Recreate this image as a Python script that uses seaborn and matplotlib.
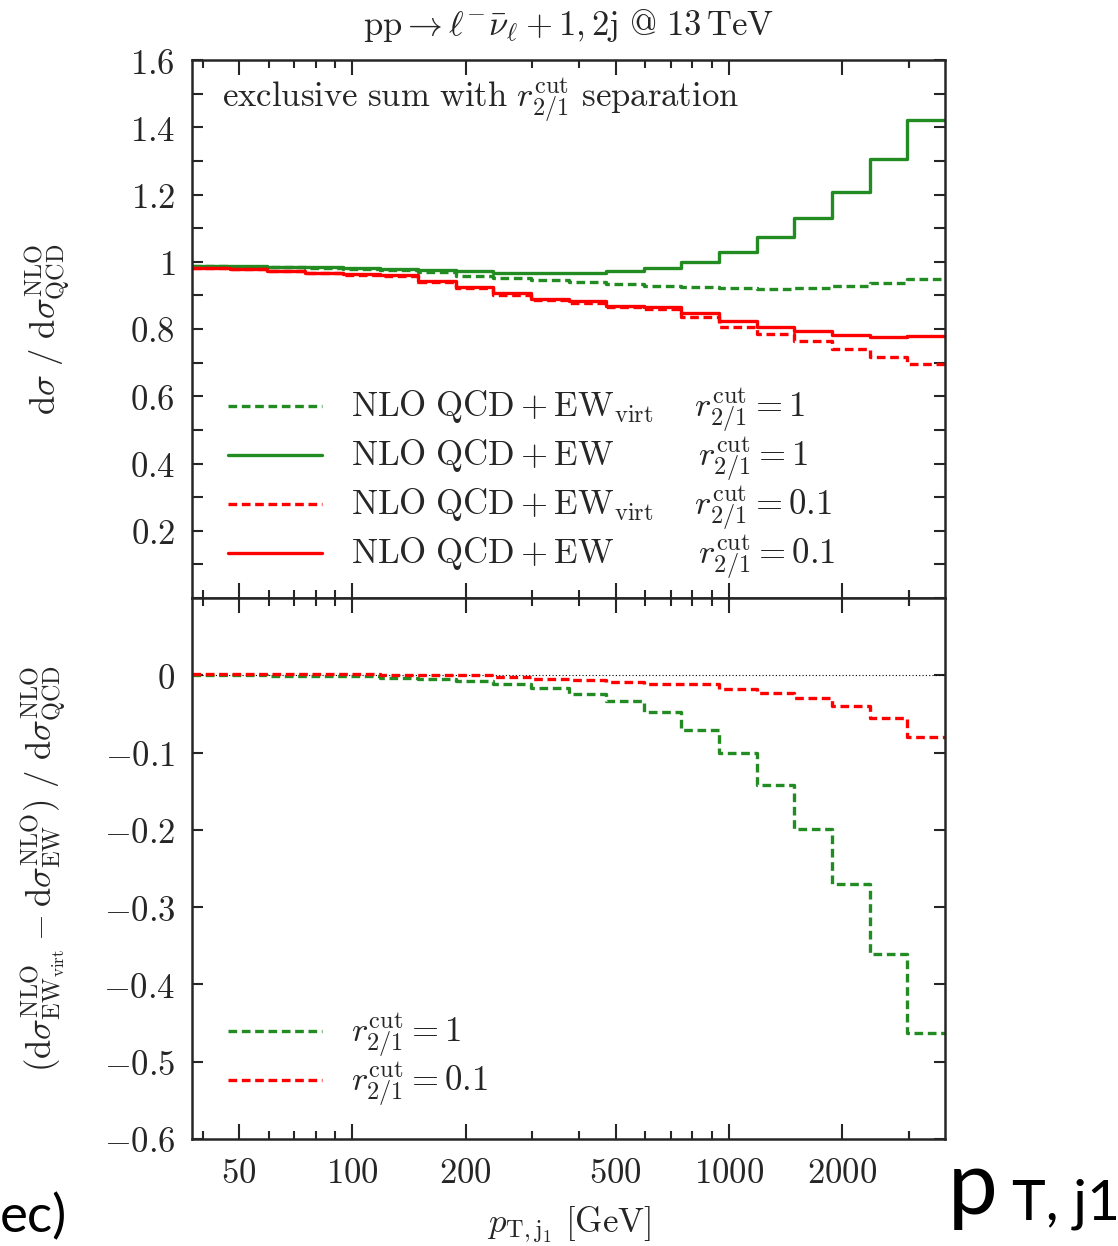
import numpy as np
import pandas as pd
import matplotlib
matplotlib.use("Agg")
import matplotlib.pyplot as plt
import seaborn as sns
from matplotlib.ticker import FixedLocator, FixedFormatter, MultipleLocator, NullFormatter
from matplotlib.lines import Line2D

# ---------------- data ----------------
pt_edges = [37.5, 47.2, 59.4, 74.8, 94.2, 118.6, 149.3, 187.9, 236.6, 297.9, 375.0,
            472.1, 594.3, 748.3, 942.0, 1185.9, 1492.9, 1879.4, 2366.0, 2978.6, 3750.0]

# top panel: d sigma / d sigma_QCD^NLO
ew_virt_r1 = [0.986, 0.984, 0.983, 0.981, 0.978, 0.975, 0.970, 0.959, 0.951, 0.946,
              0.941, 0.933, 0.928, 0.925, 0.921, 0.920, 0.922, 0.927, 0.936, 0.949]
ew_r1 = [0.986, 0.986, 0.984, 0.983, 0.981, 0.978, 0.975, 0.972, 0.968, 0.967,
         0.967, 0.972, 0.981, 1.000, 1.030, 1.073, 1.129, 1.207, 1.305, 1.422]
ew_virt_r01 = [0.981, 0.978, 0.972, 0.966, 0.961, 0.958, 0.940, 0.923, 0.902, 0.885,
               0.876, 0.864, 0.859, 0.836, 0.806, 0.786, 0.765, 0.741, 0.718, 0.696]
ew_r01 = [0.981, 0.978, 0.973, 0.967, 0.963, 0.961, 0.942, 0.926, 0.906, 0.889,
          0.883, 0.868, 0.866, 0.848, 0.824, 0.807, 0.795, 0.783, 0.775, 0.779]

# bottom panel: (EW_virt - EW) / QCD
diff_r1 = [0.000, 0.000, -0.001, -0.001, -0.0013, -0.003, -0.0043, -0.0074, -0.0107, -0.016,
           -0.0237, -0.0336, -0.0475, -0.0702, -0.1005, -0.1423, -0.199, -0.270, -0.360, -0.463]
diff_r01 = [0.0022, 0.0020, 0.0020, 0.0018, 0.0013, 0.0010, 0.0006, 0.000, -0.0022, -0.0045,
            -0.0056, -0.0087, -0.0107, -0.011, -0.018, -0.0229, -0.0294, -0.0401, -0.0552, -0.0798]

x_tick_vals = [50, 100, 200, 500, 1000, 2000]
top_yticks = [0.2, 0.4, 0.6, 0.8, 1.0, 1.2, 1.4, 1.6]
bot_yticks = [0.0, -0.1, -0.2, -0.3, -0.4, -0.5, -0.6]

GREEN = "#228b22"
RED = "#ff0000"

# ---------------- style ----------------
sns.set_theme(style="ticks")
plt.rcParams["mathtext.fontset"] = "cm"
plt.rcParams["font.family"] = ["DejaVu Serif"]
plt.rcParams["axes.linewidth"] = 1.8

FS = 25

fig = plt.figure(figsize=(11.18, 12.46), dpi=100)
W, H = 1118.0, 1246.0
ax_l, ax_r = 192 / W, 945 / W
ax1 = fig.add_axes([ax_l, 1 - 598 / H, ax_r - ax_l, (598 - 60) / H])
ax2 = fig.add_axes([ax_l, 1 - 1139 / H, ax_r - ax_l, (1139 - 598) / H], sharex=ax1)

def stairs_df(vals):
    return pd.DataFrame({"pt": pt_edges, "v": list(vals) + [vals[-1]]})

dash = (0, (2.6, 1.4))
LW = 2.4

for ax in (ax1, ax2):
    ax.set_xscale("log")

def draw(ax, vals, color, ls):
    sns.lineplot(data=stairs_df(vals), x="pt", y="v", ax=ax, color=color, lw=LW,
                 linestyle=ls, drawstyle="steps-post", estimator=None, sort=False)

draw(ax1, ew_virt_r1, GREEN, dash)
draw(ax1, ew_r1, GREEN, "-")
draw(ax1, ew_virt_r01, RED, dash)
draw(ax1, ew_r01, RED, "-")

ax2.axhline(0, color="black", lw=0.8, ls=(0, (1, 2)))
draw(ax2, diff_r1, GREEN, dash)
draw(ax2, diff_r01, RED, dash)

# ---------------- axes ----------------
ax1.set_xlim(pt_edges[0], pt_edges[-1])
ax1.set_ylim(0, 1.6)
ax2.set_ylim(-0.6, 0.1)

major_x = x_tick_vals
minor_x = [v for dec in (10, 100, 1000) for v in [dec * k for k in range(2, 10)]
           if v not in major_x and pt_edges[0] <= v <= pt_edges[-1]] + [3000]
for ax in (ax1, ax2):
    ax.xaxis.set_major_locator(FixedLocator(major_x))
    ax.xaxis.set_minor_locator(FixedLocator(minor_x))
    ax.xaxis.set_minor_formatter(NullFormatter())
    ax.tick_params(which="both", direction="in", top=True, right=True, width=1.5,
                   labelsize=FS, pad=12)
    ax.tick_params(which="major", length=11)
    ax.tick_params(which="minor", length=6)
    ax.set_xlabel("")
    ax.set_ylabel("")

ax1.tick_params(axis="x", labelbottom=False)
ax2.xaxis.set_major_formatter(FixedFormatter([f"${v}$" for v in x_tick_vals]))

def ylab(v):
    if abs(v) < 1e-9:
        return "$0$"
    if abs(v - round(v)) < 1e-9:
        return f"${int(round(v))}$"
    return f"${v:g}$"

ax1.yaxis.set_major_locator(FixedLocator(top_yticks))
ax1.yaxis.set_major_formatter(FixedFormatter([ylab(v) for v in top_yticks]))
ax1.yaxis.set_minor_locator(MultipleLocator(0.1))
ax1.tick_params(axis="y", which="minor", length=8)
ax1.tick_params(axis="y", which="major", length=8)
ax2.yaxis.set_major_locator(FixedLocator(bot_yticks))
ax2.yaxis.set_major_formatter(FixedFormatter([ylab(v) for v in bot_yticks]))
ax2.tick_params(axis="y", which="major", length=8)

ax1.set_ylabel(r"$\mathrm{d}\sigma\ /\ \mathrm{d}\sigma^{\mathrm{NLO}}_{\mathrm{QCD}}$", fontsize=FS)
ax1.yaxis.set_label_coords(-0.16, 0.5)
ax2.set_ylabel(r"$(\mathrm{d}\sigma^{\mathrm{NLO}}_{\mathrm{EW}_{\mathrm{virt}}}-\mathrm{d}\sigma^{\mathrm{NLO}}_{\mathrm{EW}})\ /\ \mathrm{d}\sigma^{\mathrm{NLO}}_{\mathrm{QCD}}$",
               fontsize=FS)
ax2.yaxis.set_label_coords(-0.165, 0.5)
ax2.set_xlabel(r"$p_{\mathrm{T,j_1}}\ [\mathrm{GeV}]$", fontsize=FS)
ax2.xaxis.set_label_coords(0.5, -0.122)

fig.text(0.5 * (ax_l + ax_r), 1 - 26 / H,
         r"$\mathrm{pp}\rightarrow\ell^{-}\bar{\nu}_{\ell}+1,2\mathrm{j}\ \mathrm{@}\ 13\,\mathrm{TeV}$",
         ha="center", va="center", fontsize=FS)

ax1.text(0.04, 0.925,
         r"$\mathrm{exclusive\ sum\ with}\ r^{\mathrm{cut}}_{2/1}\ \mathrm{separation}$",
         transform=ax1.transAxes, ha="left", va="center", fontsize=FS)

# ---------------- legends ----------------
h_top = [Line2D([], [], color=GREEN, lw=LW, ls=dash),
         Line2D([], [], color=GREEN, lw=LW, ls="-"),
         Line2D([], [], color=RED, lw=LW, ls=dash),
         Line2D([], [], color=RED, lw=LW, ls="-")]
l_top = [r"$\mathrm{NLO\ QCD}+\mathrm{EW}_{\mathrm{virt}}\hspace{1.3}r^{\mathrm{cut}}_{2/1}=1$",
         r"$\mathrm{NLO\ QCD}+\mathrm{EW}\hspace{2.8}r^{\mathrm{cut}}_{2/1}=1$",
         r"$\mathrm{NLO\ QCD}+\mathrm{EW}_{\mathrm{virt}}\hspace{1.3}r^{\mathrm{cut}}_{2/1}=0.1$",
         r"$\mathrm{NLO\ QCD}+\mathrm{EW}\hspace{2.8}r^{\mathrm{cut}}_{2/1}=0.1$"]
ax1.legend(h_top, l_top, loc="center left", bbox_to_anchor=(0.048, 0.212),
           frameon=False, fontsize=FS, handlelength=2.7, handletextpad=0.85,
           labelspacing=0.0, borderpad=0, borderaxespad=0)

h_bot = [Line2D([], [], color=GREEN, lw=LW, ls=dash),
         Line2D([], [], color=RED, lw=LW, ls=dash)]
l_bot = [r"$r^{\mathrm{cut}}_{2/1}=1$", r"$r^{\mathrm{cut}}_{2/1}=0.1$"]
ax2.legend(h_bot, l_bot, loc="center left", bbox_to_anchor=(0.048, 0.146),
           frameon=False, fontsize=FS, handlelength=2.7, handletextpad=0.85,
           labelspacing=0.0, borderpad=0, borderaxespad=0)

# ---------------- slide fragments at the corners ----------------
fig.text(0 / W, 1 - 1232 / H, "ec)", family=["Lato", "DejaVu Sans"], fontsize=38,
         ha="left", va="baseline", color="black")
fig.text(948 / W, 1 - 1214 / H, "p", family=["Lato", "DejaVu Sans"], fontsize=64,
         ha="left", va="baseline", color="black")
fig.text(1012 / W, 1 - 1220 / H, "T, j1", family=["Lato", "DejaVu Sans"], fontsize=41,
         ha="left", va="baseline", color="black")

fig.savefig("out.png", dpi=100)
